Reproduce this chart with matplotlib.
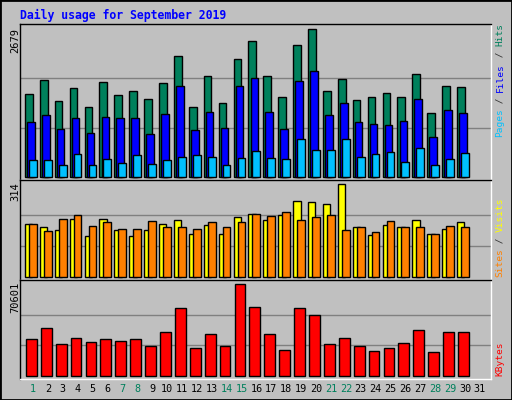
import matplotlib
matplotlib.use("Agg")
import matplotlib.pyplot as plt
import numpy as np

days = list(range(1, 32))
hits = [1497,1752,1370,1606,1261,1715,1479,1552,1406,1697,2188,1261,1824,1333,2133,2461,1824,1442,2388,2679,1552,1770,1388,1442,1515,1442,1861,1152,1642,1624]
files = [988,1115,861,1061,788,1079,1061,1061,770,1133,1642,842,1170,879,1642,1788,1170,861,1739,1921,1115,1333,988,952,933,1006,1406,715,1206,1152]
pages = [297,297,206,406,206,315,242,388,224,297,352,388,352,206,333,461,333,315,679,479,479,679,352,406,442,261,515,206,315,424]
visits = [178,168,158,195,137,195,158,137,158,181,192,147,175,144,202,212,192,209,256,253,246,314,168,141,175,168,192,144,161,185]
sites = [178,154,198,209,171,185,161,164,188,168,168,164,185,168,185,215,205,219,192,202,209,158,168,151,188,168,168,147,171,168]
kbytes = [28089,36593,24224,28862,25770,28089,26543,28089,22678,33501,52055,21131,31955,22678,70601,52829,31955,19585,52055,46644,24224,28862,22678,18812,21131,24997,35047,18039,33501,33501]
weekends = [1,7,8,14,15,21,22,28,29]
max_hits, max_visits, max_kb = 2679, 314, 70601

BG = "#C0C0C0"
W, H = 512, 400
fig = plt.figure(figsize=(5.12, 4.0), dpi=100, facecolor=BG)
MONO = "DejaVu Sans Mono"

def ax_at(top, bottom, left=20, right=491):
    return fig.add_axes([left/W, 1-bottom/H, (right-left)/W, (bottom-top)/H])

x = np.arange(1, len(hits)+1)
def style(ax, ymax, lo, hi):
    ax.set_facecolor(BG)
    ax.set_xlim(0.128, 31.74)
    ax.set_ylim(lo, hi)
    for g in (ymax/3, 2*ymax/3):
        ax.axhline(g, color="#808080", lw=1, zorder=0)
    ax.set_xticks([]); ax.set_yticks([])
    for s in ax.spines.values():
        s.set_color("black"); s.set_linewidth(1)
    ax.spines["right"].set_color("white"); ax.spines["bottom"].set_color("white")

ax1 = ax_at(24, 180)
style(ax1, max_hits, -60, 2776)
ax1.bar(x-0.54, hits, width=0.52, align="edge", color="#00805C", edgecolor="black", lw=1, zorder=2)
ax1.bar(x-0.40, files, width=0.51, align="edge", color="#0000FF", edgecolor="black", lw=1, zorder=3)
ax1.bar(x-0.27, pages, width=0.52, align="edge", color="#00C0FF", edgecolor="black", lw=1, zorder=4)

ax2 = ax_at(180, 280)
style(ax2, max_visits, -11, 329)
ax2.bar(x-0.54, visits, width=0.5, align="edge", color="#FFFF00", edgecolor="black", lw=1, zorder=2)
ax2.bar(x-0.27, sites, width=0.52, align="edge", color="#FF8000", edgecolor="black", lw=1, zorder=3)

ax3 = ax_at(280, 379)
style(ax3, max_kb, -2550, 73970)
ax3.bar(x-0.47, kbytes, width=0.72, align="edge", color="#FF0000", edgecolor="black", lw=1, zorder=2)

fig.text(20/W, 1-15/H, "Daily usage for September 2019", family=MONO, weight="bold",
         color="#0000FF", fontsize=8.3, ha="left", va="center")

# left max labels
for txt, ytop in (("2679", 28), ("314", 182), ("70601", 282)):
    fig.text(15/W, 1-ytop/H, txt, family=MONO, fontsize=7.5, rotation=90,
             ha="center", va="top", color="black")

# right multicolor labels (stacked from bottom upward)
FS = 6.8
cw = 0.602*FS*100/72
def stack(parts, ybottom, xpix=500):
    y = ybottom
    for txt, col in parts:
        fig.text(xpix/W, 1-y/H, txt, family=MONO, fontsize=FS, rotation=90,
                 ha="center", va="bottom", color=col)
        y -= cw*len(txt)
stack([("Pages", "#00C0FF"), (" / ", "#333333"), ("Files", "#0000FF"), (" / ", "#333333"), ("Hits", "#00805C")], 137)
stack([("Sites", "#FF8000"), (" / ", "#333333"), ("Visits", "#FFFF00")], 277)
stack([("KBytes", "#FF0000")], 376)

# day labels
for d in days:
    xp = 33 + 14.9*(d-1)
    fig.text(xp/W, 1-389/H, str(d), family=MONO, fontsize=7.3, ha="center", va="center",
             color="#00805C" if d in weekends else "black")

# outer border
fig.add_artist(plt.Rectangle((0, 0), 1, 1, transform=fig.transFigure, fill=False,
                             edgecolor="black", lw=2))
fig.savefig("out.png", dpi=100, facecolor=BG)
